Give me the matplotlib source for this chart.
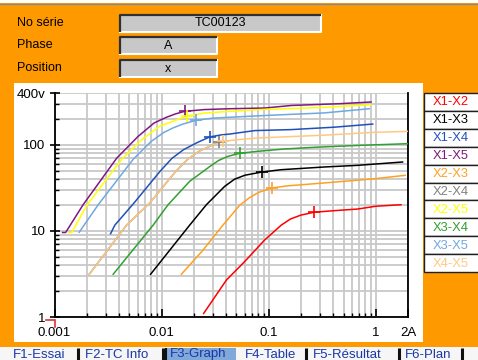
import matplotlib
matplotlib.use("Agg")
import matplotlib.pyplot as plt
from matplotlib.patches import Rectangle
from matplotlib.ticker import LogLocator, NullFormatter, FixedLocator, FixedFormatter

plt.rcParams['font.family'] = ['Liberation Sans', 'DejaVu Sans']

# ---------------- data ----------------
series_names = ["X1-X2", "X1-X3", "X1-X4", "X1-X5", "X2-X3",
                "X2-X4", "X2-X5", "X3-X4", "X3-X5", "X4-X5"]
series_colors = ["#ff0000", "#000000", "#2050b8", "#801880", "#ffa020",
                 "#808080", "#ffff00", "#30a030", "#70a8e0", "#ffc880"]

i_x1x2 = [0.0247, 0.0403, 0.0596, 0.0916, 0.131, 0.16, 0.2, 0.264, 0.4, 0.678, 1.0, 1.72]
v_x1x2 = [1.1, 2.69, 4.4, 7.85, 11.7, 13.8, 15.3, 16.5, 17.2, 18.0, 19.4, 20.2]

i_x1x3 = [0.00789, 0.0183, 0.0262, 0.0388, 0.048, 0.06, 0.0865, 0.131, 0.332, 0.678, 1.78]
v_x1x3 = [3.14, 11.7, 20.2, 33.0, 40.0, 44.5, 48.5, 51.6, 55.5, 58.0, 63.4]

i_x1x4 = [0.00334, 0.00366, 0.0055, 0.00962, 0.0125, 0.016, 0.0213, 0.0281, 0.036, 0.0432, 0.074, 0.163, 0.41, 0.936]
v_x1x4 = [9.3, 11.7, 21.0, 49.0, 70.0, 88.0, 106.0, 124.0, 131.0, 134.0, 147.0, 151.0, 161.0, 175.0]

i_x1x5 = [0.00119, 0.00127, 0.00185, 0.0038, 0.006, 0.0085, 0.0111, 0.0135, 0.0164, 0.025, 0.0432, 0.0916, 0.163, 0.458, 0.904]
v_x1x5 = [9.6, 9.6, 20.2, 70.0, 125.0, 180.0, 210.0, 230.0, 246.0, 258.0, 264.0, 269.0, 288.0, 302.0, 316.0]

i_x2x3 = [0.0153, 0.0244, 0.0374, 0.0536, 0.065, 0.08, 0.107, 0.15, 0.332, 1.0, 1.88]
v_x2x3 = [3.14, 6.0, 11.7, 19.9, 24.0, 28.0, 31.6, 33.5, 36.2, 40.6, 44.4]

i_x2x4 = [0.00211, 0.00471, 0.0077, 0.0135, 0.0175, 0.0225, 0.03, 0.0344]
v_x2x4 = [3.14, 11.7, 21.0, 49.0, 68.0, 85.0, 100.0, 108.0]

i_x2x5 = [0.00135, 0.00145, 0.00202, 0.00423, 0.0065, 0.00962, 0.0128, 0.0171, 0.025, 0.0432, 0.079, 0.332, 0.904]
v_x2x5 = [9.6, 9.6, 20.2, 68.0, 115.0, 165.0, 189.0, 216.0, 235.0, 246.0, 257.0, 274.0, 294.0]

i_x3x4 = [0.00353, 0.00834, 0.0115, 0.0183, 0.0281, 0.034, 0.042, 0.0536, 0.079, 0.14, 0.268, 0.73, 2.0]
v_x3x4 = [3.14, 11.7, 20.2, 37.8, 56.0, 66.0, 74.0, 80.0, 84.4, 89.8, 94.0, 99.2, 103.5]

i_x3x5 = [0.0017, 0.00256, 0.00542, 0.008, 0.0105, 0.0128, 0.0158, 0.0211, 0.03, 0.0432, 0.0983, 0.332, 0.87]
v_x3x5 = [9.66, 20.2, 68.0, 110.0, 140.0, 158.0, 175.0, 194.0, 205.0, 210.0, 221.0, 236.0, 264.0]

i_x4x5 = [0.00211, 0.00471, 0.0077, 0.0135, 0.0175, 0.0225, 0.03, 0.0374, 0.05, 0.079, 0.332, 1.0, 2.0]
v_x4x5 = [3.14, 11.7, 21.0, 49.0, 68.0, 85.0, 100.0, 110.0, 115.0, 120.6, 130.0, 140.6, 144.0]

knee_i = [0.264, 0.0865, 0.0281, 0.0164, 0.107, 0.0344, 0.0171, 0.0536, 0.0211, 0.0374]
knee_v = [16.5, 48.5, 124.0, 246.0, 31.6, 108.0, 216.0, 80.0, 194.0, 110.0]

currents = [i_x1x2, i_x1x3, i_x1x4, i_x1x5, i_x2x3, i_x2x4, i_x2x5, i_x3x4, i_x3x5, i_x4x5]
voltages = [v_x1x2, v_x1x3, v_x1x4, v_x1x5, v_x2x3, v_x2x4, v_x2x5, v_x3x4, v_x3x5, v_x4x5]

x_ticks = [0.001, 0.01, 0.1, 1, 2]
x_tick_labels = ["0.001", "0.01", "0.1", "1", "2A"]
y_ticks = [1, 10, 100, 400]
y_tick_labels = ["1", "10", "100", "400v"]

info_labels = ["No série", "Phase", "Position"]
info_values = ["TC00123", "A", "x"]
tabs = ["F1-Essai", "F2-TC Info", "F3-Graph", "F4-Table", "F5-Résultat", "F6-Plan"]

# ---------------- figure ----------------
W, H = 478, 360
ORANGE = "#ff9900"
fig = plt.figure(figsize=(W / 100, H / 100), dpi=100, facecolor=ORANGE)

bg = fig.add_axes([0, 0, 1, 1])
bg.set_xlim(0, W)
bg.set_ylim(H, 0)
bg.axis("off")

# top white strip
bg.add_patch(Rectangle((0, 0), W, 3, facecolor="white", edgecolor="none"))
bg.plot([0, W], [3.5, 3.5], color="#8a8a8a", lw=1)

# info labels and boxes
label_y = [23, 45.5, 68]
box_rects = [(119, 14, 321, 32), (119, 36.5, 217, 54), (119, 59, 217, 77)]
for lab, val, ly, (x0, y0, x1, y1) in zip(info_labels, info_values, label_y, box_rects):
    bg.text(17, ly, lab, fontsize=9, va="center", ha="left", color="black")
    bg.add_patch(Rectangle((x0, y0), x1 - x0, y1 - y0, facecolor="#c8c8c8", edgecolor="none"))
    bg.plot([x0, x1, x1], [y1, y1, y0], color="white", lw=1.5, solid_capstyle="butt")
    bg.plot([x0 + 0.8, x0 + 0.8, x1], [y1, y0 + 0.8, y0 + 0.8], color="#303030", lw=1.6,
            solid_capstyle="butt")
    bg.text((x0 + x1) / 2, (y0 + y1) / 2 + 0.5, val, fontsize=9, va="center", ha="center",
            color="black")

# white chart area
bg.add_patch(Rectangle((14, 83), 409, 259, facecolor="white", edgecolor="none"))

# red corner mark
bg.plot([46, 54], [319.5, 319.5], color="#e03030", lw=1.2)
bg.plot([55, 55], [319.5, 327], color="#e03030", lw=1.2)

# legend boxes
box_h = 17.9
for k, (name, col) in enumerate(zip(series_names, series_colors)):
    y0 = 93 + k * box_h
    bg.add_patch(Rectangle((424.5, y0), 60, box_h, facecolor="white", edgecolor="#202020", lw=1.0))
    bg.text(451, y0 + box_h / 2 + 0.5, name, fontsize=9.3, ha="center", va="center", color=col)

# tab bar
bg.add_patch(Rectangle((0, 347), W, 13, facecolor="#f6f6f6", edgecolor="none"))
bg.add_patch(Rectangle((166, 347.5), 70, 12.5, facecolor="#80a8d8", edgecolor="none"))
tab_x = [13, 85, 170, 245, 313, 405]
for t, tx in zip(tabs, tab_x):
    bg.text(tx, 354.5, t, fontsize=9.5, ha="left", va="center", color="#1838a8")
for sx in [78.5, 163.5, 306, 399, 462.5]:
    bg.plot([sx, sx], [348, 360], color="#101010", lw=2.2, solid_capstyle="butt")
bg.plot([166.5, 166.5], [348, 360], color="#101010", lw=1.5, solid_capstyle="butt")

# ---------------- plot axes ----------------
ax_left, ax_right = 54.5, 408
ax_top, ax_bottom = 93.2, 317
ax = fig.add_axes([ax_left / W, 1 - ax_bottom / H, (ax_right - ax_left) / W,
                   (ax_bottom - ax_top) / H])
ax.patch.set_alpha(0)
ax.set_xscale("log")
ax.set_yscale("log")
ax.set_xlim(0.001, 2)
ax.set_ylim(1, 400)

for cur, vol, col in zip(currents, voltages, series_colors):
    ax.plot(cur, vol, color=col, lw=1.1, solid_joinstyle="round", zorder=3)
for ki, kv, col in zip(knee_i, knee_v, series_colors):
    ax.plot([ki], [kv], marker="+", markersize=8, mew=1.2, color=col, linestyle="none", zorder=4)

ax.xaxis.set_major_locator(FixedLocator(x_ticks))
ax.xaxis.set_major_formatter(FixedFormatter(x_tick_labels))
ax.xaxis.set_minor_locator(LogLocator(base=10, subs=[2, 3, 4, 5, 6, 7, 8, 9], numticks=20))
ax.xaxis.set_minor_formatter(NullFormatter())
ax.yaxis.set_major_locator(FixedLocator(y_ticks))
ax.yaxis.set_major_formatter(FixedFormatter(y_tick_labels))
ax.yaxis.set_minor_locator(LogLocator(base=10, subs=[2, 3, 4, 5, 6, 7, 8, 9], numticks=20))
ax.yaxis.set_minor_formatter(NullFormatter())

ax.grid(True, which="both", color="#c8c8c8", lw=1.3, zorder=0)
ax.set_axisbelow(True)

ax.tick_params(axis="x", which="major", direction="in", length=6, width=1.2, pad=7,
               labelsize=9.5, colors="black")
ax.tick_params(axis="x", which="minor", direction="in", length=3, width=1.0)
ax.tick_params(axis="y", which="major", direction="inout", length=7, width=1.2, pad=3,
               labelsize=9.5)
ax.tick_params(axis="y", which="minor", direction="in", length=3, width=1.0)

ax.spines["top"].set_visible(False)
for s in ["left", "right", "bottom"]:
    ax.spines[s].set_color("black")
    ax.spines[s].set_linewidth(1.3)

fig.savefig("out.png", dpi=100, facecolor=ORANGE)
